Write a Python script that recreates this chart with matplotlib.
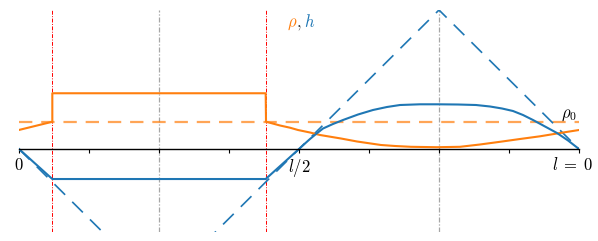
import numpy as np
import matplotlib.pyplot as plt

plt.rcParams['mathtext.fontset'] = 'cm'
plt.rcParams['font.family'] = 'DejaVu Serif'

BLUE = "#1f77b4"
ORANGE = "#ff7f0e"

# positions along the ring, l = 1
x_red = [0.0595, 0.4405]
x_gray = [0.25, 0.75]

# initial height (dashed tent)
x_h0 = [0.0, 0.25, 0.5, 0.75, 1.0]
h0 = [0.0, -1.0, 0.0, 1.0, 0.0]

# initial density
rho0 = 0.196

# height h, solid
x_h = [0.0, 0.0595, 0.4405, 0.5, 0.5107, 0.5196, 0.5304, 0.5429, 0.5607,
       0.5786, 0.6054, 0.6321, 0.6571, 0.6804, 0.7161, 0.7482, 0.7839, 0.8161,
       0.8411, 0.8625, 0.8821, 0.9, 0.9179, 0.9393, 0.9607, 0.9804, 1.0]
h = [0.0, -0.216, -0.216, 0.0, 0.0396, 0.0719, 0.1079, 0.1475, 0.1799,
     0.2086, 0.2482, 0.2806, 0.3022, 0.3165, 0.3216, 0.3216, 0.3201, 0.3165,
     0.3058, 0.2914, 0.2734, 0.2446, 0.2086, 0.1619, 0.1151, 0.0612, 0.0]

# density rho, solid
x_rho = [0.0, 0.0595, 0.0595, 0.4405, 0.4411, 0.4661, 0.4839, 0.4982, 0.5196,
         0.5375, 0.575, 0.6036, 0.6464, 0.6714, 0.7, 0.7464, 0.7875, 0.8232,
         0.8589, 0.8946, 0.9304, 0.9661, 1.0]
rho = [0.137, 0.196, 0.401, 0.401, 0.1964, 0.1691, 0.1532, 0.1367, 0.1187,
       0.1007, 0.0755, 0.054, 0.0288, 0.0216, 0.0158, 0.0129, 0.0158, 0.0324,
       0.0518, 0.0719, 0.0914, 0.1151, 0.1367]

fig = plt.figure(figsize=(5.98, 2.41), dpi=100)
ax = fig.add_axes([19/598, 9/241, 560/598, 222/241])

for xv in x_red:
    ax.axvline(xv, color="red", lw=0.7, ls=(0, (4, 1.5, 1, 1.5)), zorder=1)
for xv in x_gray:
    ax.axvline(xv, color="gray", lw=0.9, ls=(0, (4, 1.5, 1, 1.5)), alpha=0.7, zorder=1)

ax.axhline(rho0, color=ORANGE, alpha=0.7, lw=1.6, ls=(0, (6, 4)))
ax.plot(x_h0, h0, color=BLUE, lw=1.2, ls=(0, (9, 6)))
ax.plot(x_rho, rho, color=ORANGE, lw=1.5)
ax.plot(x_h, h, color=BLUE, lw=1.5)

ax.set_xlim(0, 1)
ax.set_ylim(-83/139, 1.0)
for s in ["left", "right", "top"]:
    ax.spines[s].set_visible(False)
ax.spines["bottom"].set_position(("data", 0))
ax.spines["bottom"].set_linewidth(1.0)
ax.set_yticks([])
ax.set_xticks(np.arange(0, 1.001, 0.125))
ax.set_xticklabels([])
ax.tick_params(axis="x", direction="out", length=3, width=0.8)

fs = 12
ax.text(0.0, -0.06, r"$0$", ha="center", va="top", fontsize=fs)
ax.text(0.5, -0.06, r"$l/2$", ha="center", va="top", fontsize=fs)
ax.text(0.989, -0.06, r"$l\;=\;0$", ha="center", va="top", fontsize=fs)
ax.text(0.982, 0.225, r"$\rho_0$", ha="center", va="baseline", fontsize=fs)

fig.text(292/598, 1 - 27/241, r"$\rho$", color=ORANGE, ha="center", va="baseline", fontsize=fs)
fig.text(299/598, 1 - 27/241, r"$,$", color="#333333", ha="center", va="baseline", fontsize=fs)
fig.text(309.5/598, 1 - 27/241, r"$h$", color=BLUE, ha="center", va="baseline", fontsize=fs)

fig.savefig("out.png", dpi=100)
